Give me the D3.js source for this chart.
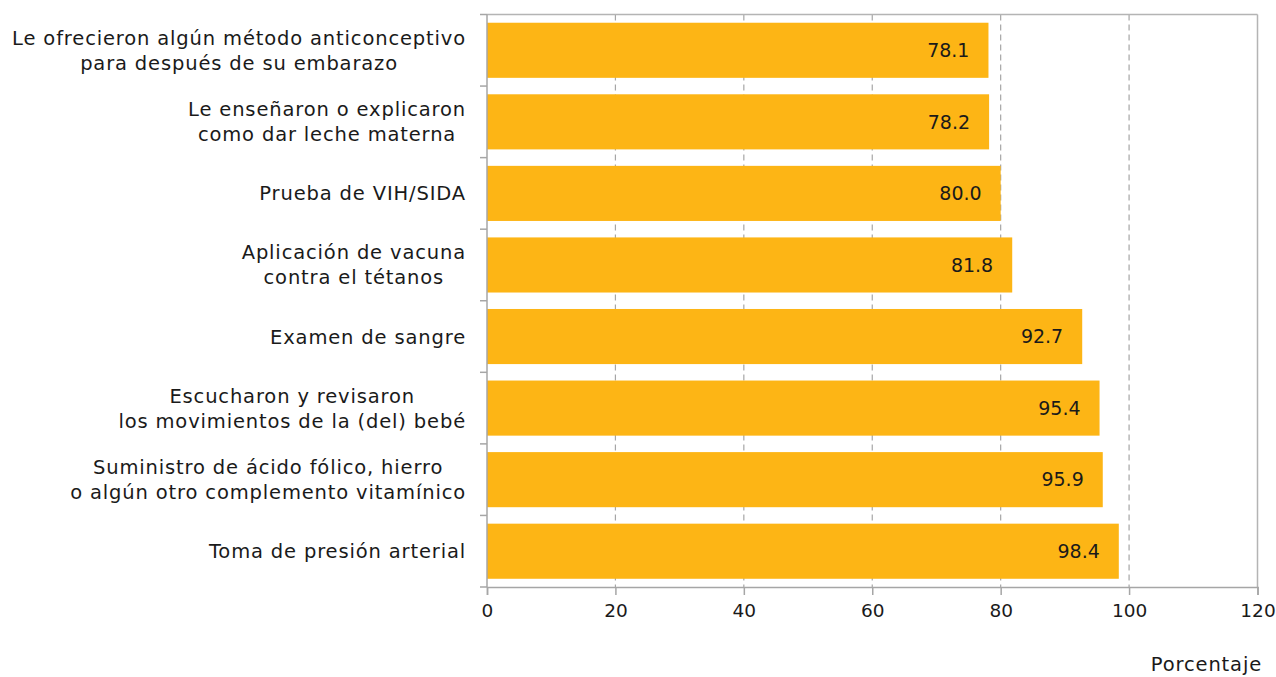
<!DOCTYPE html>
<html><head><meta charset="utf-8">
<script src="https://cdn.jsdelivr.net/npm/d3@7/dist/d3.min.js"></script>
<style>
body{margin:0;background:#fff;}
text{font-family:"DejaVu Sans","Noto Sans",sans-serif;fill:#1a1a1a;}
</style></head>
<body><svg id="c" width="1276" height="677"></svg>
<script>
const categories = [
  ["Le ofrecieron algún método anticonceptivo","para después de su embarazo"],
  ["Le enseñaron o explicaron","como dar leche materna "],
  ["Prueba de VIH/SIDA"],
  ["Aplicación de vacuna","contra el tétanos"],
  ["Examen de sangre"],
  ["Escucharon y revisaron","los movimientos de la (del) bebé"],
  ["Suministro de ácido fólico, hierro","o algún otro complemento vitamínico"],
  ["Toma de presión arterial"]
];
const values = [78.1, 78.2, 80.0, 81.8, 92.7, 95.4, 95.9, 98.4];
const xTicks = [0, 20, 40, 60, 80, 100, 120];
const xTitle = "Porcentaje";

const svg = d3.select("#c");
const m = {left: 487, top: 14.5, right: 1257.5, bottom: 587};
const x = d3.scaleLinear().domain([0,120]).range([m.left, m.right]);
const y = d3.scaleBand().domain(d3.range(categories.length)).range([m.top, m.bottom]).paddingInner(0.23).paddingOuter(0.115);
const yEdges = d3.scaleLinear().domain([0, categories.length]).range([m.top, m.bottom]);
const gridColor = "#a6a6a6";
const textColor = "#1a1a1a";
const labFont = 19.5, labSpacing = 0.85;

// gridlines
svg.append("g").selectAll("line").data(xTicks.filter(t => t>0 && t<120)).join("line")
  .attr("x1", d=>x(d)).attr("x2", d=>x(d)).attr("y1", m.top).attr("y2", m.bottom)
  .attr("stroke", gridColor).attr("stroke-width",1.2).attr("stroke-dasharray","6,4");
svg.append("line").attr("x1", m.left).attr("x2", m.right).attr("y1", m.top).attr("y2", m.top).attr("stroke", "#b4b4b4").attr("stroke-width",1.5);
svg.append("line").attr("x1", m.right).attr("x2", m.right).attr("y1", m.top).attr("y2", m.bottom).attr("stroke", "#b4b4b4").attr("stroke-width",1.5);

// bars
svg.append("g").selectAll("rect").data(values).join("rect")
  .attr("x", x(0)).attr("y", (d,i)=>y(i)).attr("width", d=>x(d)-x(0)).attr("height", y.bandwidth())
  .attr("fill", "#FDB515");

// value labels
svg.append("g").selectAll("text").data(values).join("text")
  .attr("x", d=>x(d)-19).attr("y", (d,i)=>y(i)+y.bandwidth()/2).attr("dy","0.36em")
  .attr("text-anchor","end").attr("font-size",19).text(d=>d.toFixed(1));

// x axis
const xAxis = svg.append("g").attr("transform", `translate(0,${m.bottom})`)
  .call(d3.axisBottom(x).tickValues(xTicks).tickSize(8).tickPadding(9).tickFormat(d3.format("d")));
xAxis.select(".domain").attr("stroke", gridColor).attr("stroke-width",1.5);
xAxis.selectAll(".tick line").attr("stroke", gridColor).attr("stroke-width",1.5);
xAxis.selectAll("text").attr("font-size",18.5).attr("font-family",null).style("fill",textColor);

// y axis line and ticks at band edges
svg.append("line").attr("x1", m.left).attr("x2", m.left).attr("y1", m.top).attr("y2", m.bottom).attr("stroke", gridColor).attr("stroke-width",1.5);
svg.append("g").selectAll("line").data(d3.range(categories.length+1)).join("line")
  .attr("x1", m.left-7).attr("x2", m.left).attr("y1", d=>yEdges(d)).attr("y2", d=>yEdges(d))
  .attr("stroke", gridColor).attr("stroke-width",1.5);

// category labels
const labelRight = 466, lh = 25;
const lg = svg.append("g");
categories.forEach((lines, i) => {
  const cy = y(i) + y.bandwidth()/2;
  const t = lg.append("text").attr("font-size",labFont).attr("letter-spacing",labSpacing).attr("text-anchor","middle");
  const spans = lines.map((l, k) => t.append("tspan").text(l));
  const widths = spans.map(s => s.node().getComputedTextLength());
  const maxW = d3.max(widths);
  const cx = labelRight - maxW/2;
  spans.forEach((s, k) => s.attr("x", cx).attr("y", cy + (k - (lines.length-1)/2)*lh).attr("dy","0.36em"));
});

// x title
svg.append("text").attr("x", 1262).attr("y", 671).attr("text-anchor","end").attr("font-size",labFont).attr("letter-spacing",labSpacing).text(xTitle);
</script></body></html>
